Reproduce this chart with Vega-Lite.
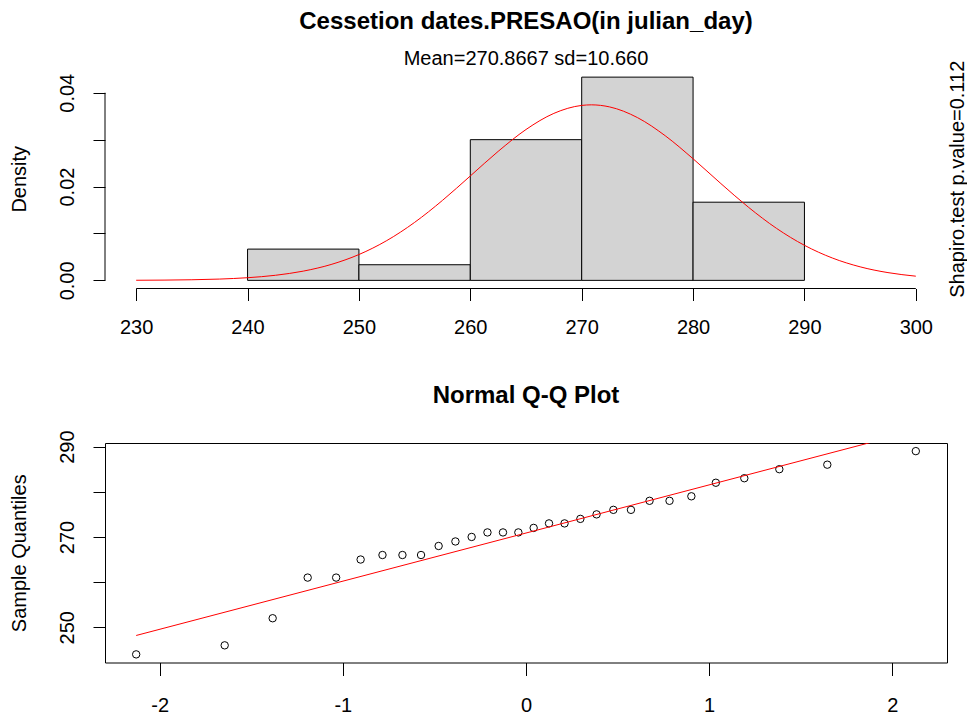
{
  "$schema": "https://vega.github.io/schema/vega-lite/v6.json",
  "background": "white",
  "padding": {"left": 8, "top": 10, "right": 0, "bottom": 0},
  "config": {
    "font": "Liberation Sans",
    "axis": {"labelFont": "Liberation Sans", "titleFont": "Liberation Sans", "labelFontSize": 20, "titleFontSize": 20, "titleFontWeight": "normal", "labelColor": "black", "titleColor": "black", "tickColor": "black", "tickWidth": 1, "grid": false, "tickSize": 12, "labelOverlap": false, "labelFlush": false, "domain": false},
    "view": {"stroke": null},
    "title": {"font": "Liberation Sans", "subtitleFont": "Liberation Sans", "color": "black", "subtitleColor": "black", "anchor": "middle", "frame": "group"}
  },
  "datasets": {
    "hist": [
      {"start": 240, "end": 250, "count": 2, "density": 0.0066667},
      {"start": 250, "end": 260, "count": 1, "density": 0.0033333},
      {"start": 260, "end": 270, "count": 9, "density": 0.03},
      {"start": 270, "end": 280, "count": 13, "density": 0.0433333},
      {"start": 280, "end": 290, "count": 5, "density": 0.0166667}
    ],
    "curve": [
      {"x": 230, "d": 0.0000241}, {"x": 232.5, "d": 0.0000575}, {"x": 235, "d": 0.00013}, {"x": 237.5, "d": 0.000279},
      {"x": 240, "d": 0.000566}, {"x": 242.5, "d": 0.001085}, {"x": 245, "d": 0.001971}, {"x": 247.5, "d": 0.003387},
      {"x": 250, "d": 0.005509}, {"x": 252.5, "d": 0.008483}, {"x": 255, "d": 0.012363}, {"x": 257.5, "d": 0.01705},
      {"x": 260, "d": 0.022259}, {"x": 262.5, "d": 0.027503}, {"x": 265, "d": 0.032166}, {"x": 267.5, "d": 0.035604},
      {"x": 270, "d": 0.037302}, {"x": 270.87, "d": 0.037425}, {"x": 272.5, "d": 0.036988}, {"x": 275, "d": 0.034715},
      {"x": 277.5, "d": 0.030837}, {"x": 280, "d": 0.025928}, {"x": 282.5, "d": 0.020632}, {"x": 285, "d": 0.015541},
      {"x": 287.5, "d": 0.011078}, {"x": 290, "d": 0.007476}, {"x": 292.5, "d": 0.004774}, {"x": 295, "d": 0.002885},
      {"x": 297.5, "d": 0.001652}, {"x": 300, "d": 0.000894}
    ],
    "qq": [
      {"theoretical": -2.128045, "sample": 244}, {"theoretical": -1.644854, "sample": 246}, {"theoretical": -1.382994, "sample": 252},
      {"theoretical": -1.191816, "sample": 261}, {"theoretical": -1.036433, "sample": 261}, {"theoretical": -0.902735, "sample": 265},
      {"theoretical": -0.7835, "sample": 266}, {"theoretical": -0.67449, "sample": 266}, {"theoretical": -0.572968, "sample": 266},
      {"theoretical": -0.476939, "sample": 268}, {"theoretical": -0.38532, "sample": 269}, {"theoretical": -0.296738, "sample": 270},
      {"theoretical": -0.210428, "sample": 271}, {"theoretical": -0.125661, "sample": 271}, {"theoretical": -0.041789, "sample": 271},
      {"theoretical": 0.041789, "sample": 272}, {"theoretical": 0.125661, "sample": 273}, {"theoretical": 0.210428, "sample": 273},
      {"theoretical": 0.296738, "sample": 274}, {"theoretical": 0.38532, "sample": 275}, {"theoretical": 0.476939, "sample": 276},
      {"theoretical": 0.572968, "sample": 276}, {"theoretical": 0.67449, "sample": 278}, {"theoretical": 0.7835, "sample": 278},
      {"theoretical": 0.902735, "sample": 279}, {"theoretical": 1.036433, "sample": 282}, {"theoretical": 1.191816, "sample": 283},
      {"theoretical": 1.382994, "sample": 285}, {"theoretical": 1.644854, "sample": 286}, {"theoretical": 2.128045, "sample": 289}
    ],
    "qqline": [
      {"theoretical": -2.128045, "sample": 248.182},
      {"theoretical": 2.128045, "sample": 293.551}
    ]
  },
  "spacing": 45,
  "vconcat": [
    {
      "width": 842,
      "height": 219.5,
      "title": {"text": "Cessetion dates.PRESAO(in julian_day)", "subtitle": "Mean=270.8667 sd=10.660", "fontSize": 24, "fontWeight": "bold", "subtitleFontSize": 20, "subtitlePadding": 15, "offset": -9},
      "resolve": {"scale": {"y": "independent"}, "axis": {"y": "independent"}},
      "layer": [
        {
          "data": {"name": "hist"},
          "mark": {"type": "bar", "fill": "#D3D3D3", "stroke": "black", "strokeWidth": 1},
          "encoding": {
            "x": {"field": "start", "type": "quantitative", "scale": {"domain": [227.2, 302.8], "nice": false, "zero": false},
                  "axis": {"values": [230, 240, 250, 260, 270, 280, 290, 300], "labelPadding": 17, "title": null, "format": "d"}},
            "x2": {"field": "end"},
            "y": {"field": "density", "type": "quantitative", "scale": {"domain": [-0.001733, 0.045067], "nice": false, "zero": false},
                  "axis": {"values": [0, 0.01, 0.02, 0.03, 0.04], "labelExpr": "round(datum.value*100) % 2 == 0 ? format(datum.value, '.2f') : ''", "labelAngle": 270, "labelAlign": "center", "labelBaseline": "alphabetic", "labelPadding": 20, "title": "Density", "titlePadding": 28}},
            "y2": {"datum": 0}
          }
        },
        {
          "data": {"name": "curve"},
          "mark": {"type": "line", "color": "red", "strokeWidth": 1, "interpolate": "monotone"},
          "encoding": {
            "x": {"field": "x", "type": "quantitative"},
            "y": {"field": "d", "type": "quantitative", "scale": {"domain": [-0.001733, 0.045067], "nice": false, "zero": false}, "axis": null}
          }
        },
        {
          "data": {"values": [{}]},
          "mark": {"type": "rule", "color": "black", "strokeWidth": 1},
          "encoding": {
            "x": {"datum": 230, "type": "quantitative"},
            "x2": {"datum": 300},
            "y": {"datum": -0.001733, "type": "quantitative", "scale": {"domain": [-0.001733, 0.045067], "nice": false, "zero": false}, "axis": null}
          }
        },
        {
          "data": {"values": [{}]},
          "mark": {"type": "rule", "color": "black", "strokeWidth": 1},
          "encoding": {
            "x": {"datum": 227.2, "type": "quantitative"},
            "y": {"datum": 0, "type": "quantitative", "scale": {"domain": [-0.001733, 0.045067], "nice": false, "zero": false}, "axis": null},
            "y2": {"datum": 0.04}
          }
        },
        {
          "data": {"name": "hist"},
          "mark": {"type": "point", "opacity": 0},
          "encoding": {
            "x": {"field": "start", "type": "quantitative"},
            "y": {"field": "density", "type": "quantitative", "scale": {"domain": [-0.001733, 0.045067], "nice": false, "zero": false},
                  "axis": {"orient": "right", "title": "Shapiro.test p.value=0.112", "labels": false, "ticks": false, "domain": false, "titleAngle": 270, "titleBaseline": "top", "titlePadding": 0}}
          }
        }
      ]
    },
    {
      "width": 842,
      "height": 219.5,
      "title": {"text": "Normal Q-Q Plot", "fontSize": 24, "fontWeight": "bold", "offset": 21.5},
      "view": {"stroke": "black", "strokeWidth": 1},
      "layer": [
        {
          "data": {"name": "qq"},
          "mark": {"type": "point", "shape": "circle", "filled": false, "color": "black", "size": 55, "strokeWidth": 1, "opacity": 1},
          "encoding": {
            "x": {"field": "theoretical", "type": "quantitative", "scale": {"domain": [-2.29829, 2.29829], "nice": false, "zero": false},
                  "axis": {"values": [-2, -1, 0, 1, 2], "labelExpr": "datum.value < 0 ? '-' + abs(datum.value) : '' + datum.value", "labelPadding": 19.5, "tickSize": 13, "title": null}},
            "y": {"field": "sample", "type": "quantitative", "scale": {"domain": [242.2, 290.8], "nice": false, "zero": false},
                  "axis": {"values": [250, 260, 270, 280, 290], "labelExpr": "datum.value % 20 == 10 ? datum.label : ''", "labelAngle": 270, "labelAlign": "center", "labelBaseline": "alphabetic", "labelPadding": 20, "title": "Sample Quantiles", "titlePadding": 28}}
          }
        },
        {
          "data": {"name": "qqline"},
          "mark": {"type": "line", "color": "red", "strokeWidth": 1, "clip": true},
          "encoding": {
            "x": {"field": "theoretical", "type": "quantitative"},
            "y": {"field": "sample", "type": "quantitative"}
          }
        }
      ]
    }
  ]
}
